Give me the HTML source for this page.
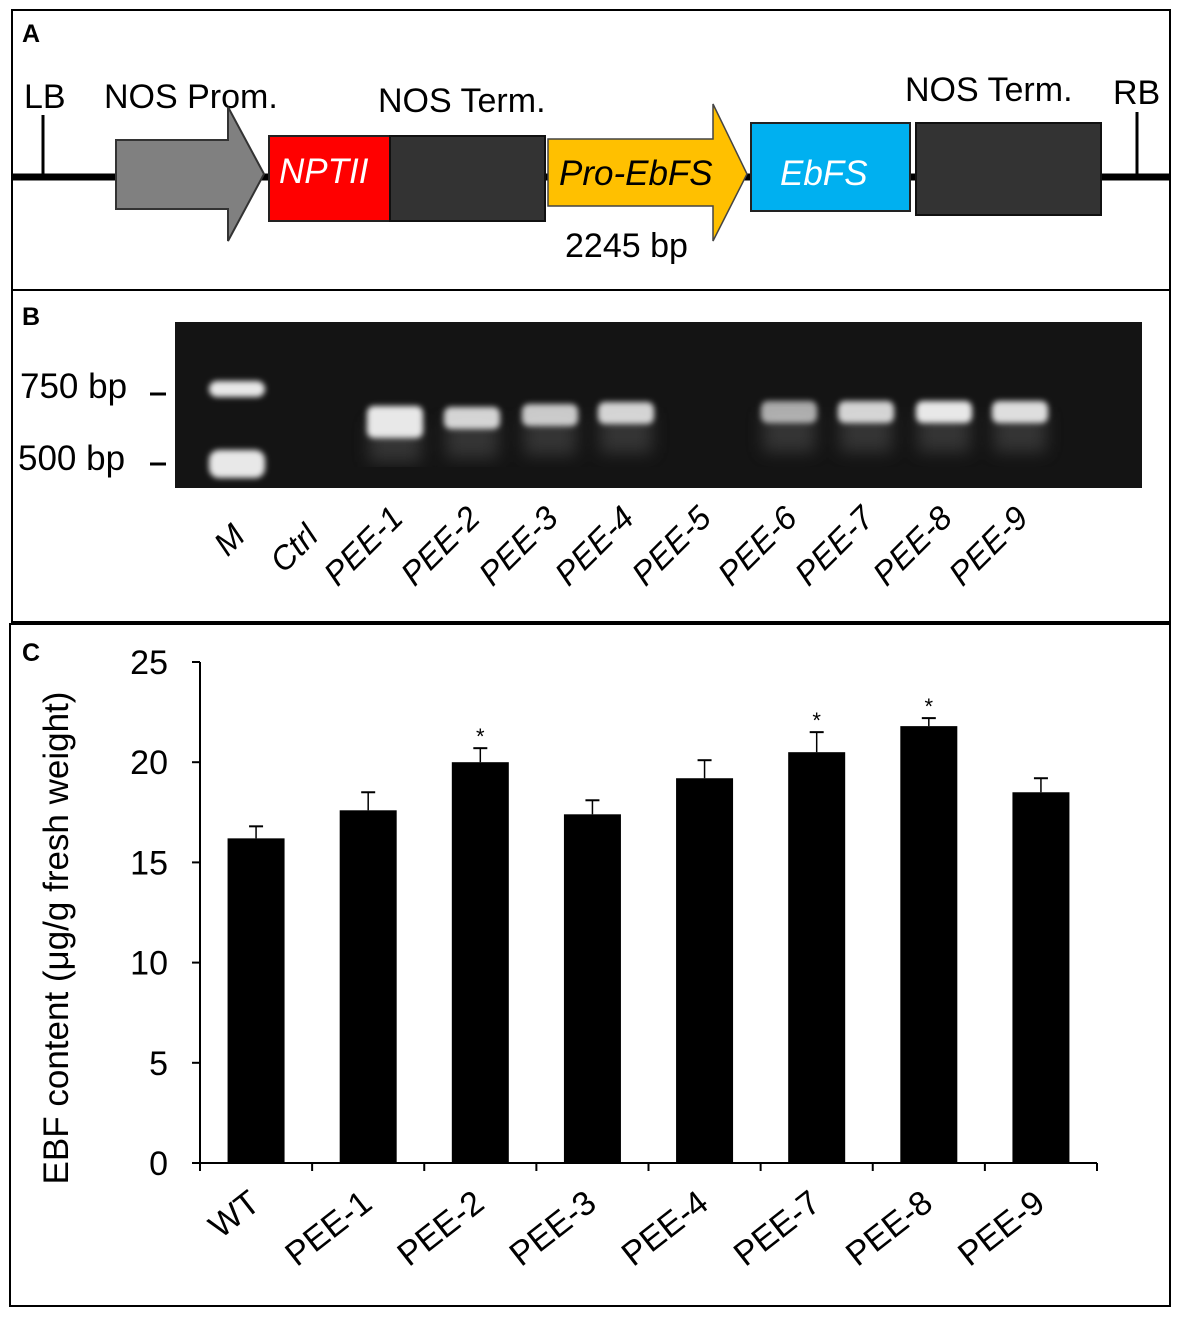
<!DOCTYPE html>
<html><head><meta charset="utf-8"><style>
html,body{margin:0;padding:0;background:#fff}
svg{display:block;font-family:"Liberation Sans",Arial,sans-serif}
</style></head><body>
<svg width="1181" height="1317" viewBox="0 0 1181 1317" xmlns="http://www.w3.org/2000/svg">
<g>
<rect x="12" y="10" width="1158" height="280" fill="none" stroke="#000" stroke-width="2"/>
<text x="22" y="42" font-size="25" font-weight="bold">A</text>
<line x1="13" y1="177" x2="1170" y2="177" stroke="#000" stroke-width="7"/>
<line x1="43" y1="115" x2="43" y2="177" stroke="#000" stroke-width="3"/>
<line x1="1137" y1="112" x2="1137" y2="177" stroke="#000" stroke-width="3"/>
<text x="24" y="108" font-size="34">LB</text>
<text x="104" y="108" font-size="34">NOS Prom.</text>
<text x="378" y="112" font-size="34">NOS Term.</text>
<text x="905" y="101" font-size="34">NOS Term.</text>
<text x="1113" y="104" font-size="34">RB</text>
<polygon points="116,140 228,140 228,107 264,174 228,241 228,209 116,209" fill="#808080" stroke="#333" stroke-width="2"/>
<rect x="269" y="136" width="121" height="85" fill="#ff0000" stroke="#222" stroke-width="2"/>
<text x="279" y="183" font-size="35" font-style="italic" fill="#fff">NPTII</text>
<rect x="390" y="136" width="155" height="85" fill="#333" stroke="#111" stroke-width="2"/>
<polygon points="548,139 713,139 713,104 747,174 713,241 713,206 548,206" fill="#ffc000" stroke="#444" stroke-width="1.5"/>
<text x="559" y="185" font-size="35" font-style="italic" fill="#000">Pro-EbFS</text>
<text x="565" y="257" font-size="34">2245 bp</text>
<rect x="751" y="123" width="159" height="88" fill="#00b0f0" stroke="#222" stroke-width="2"/>
<text x="780" y="185" font-size="35" font-style="italic" fill="#fff">EbFS</text>
<rect x="916" y="123" width="185" height="92" fill="#333" stroke="#111" stroke-width="2"/>
</g>
<g>
<rect x="12" y="290" width="1158" height="332" fill="none" stroke="#000" stroke-width="2"/>
<text x="22" y="325" font-size="25" font-weight="bold">B</text>
<defs><filter id="blur"><feGaussianBlur stdDeviation="3"/></filter><filter id="blur2"><feGaussianBlur stdDeviation="8"/></filter></defs>
<rect x="175" y="322" width="967" height="166" fill="#141414"/>
<g filter="url(#blur2)" fill="#555" opacity="0.5" id="smears"></g>
<g filter="url(#blur)" fill="#e8e8e8" id="bands"></g>
<text x="20" y="398" font-size="35">750 bp</text>
<text x="18" y="470" font-size="35">500 bp</text>
<line x1="150" y1="394" x2="166" y2="394" stroke="#000" stroke-width="3"/>
<line x1="150" y1="464" x2="166" y2="464" stroke="#000" stroke-width="3"/>
<g id="laneLabels" font-size="33" font-style="italic"></g>
</g>
<g>
<rect x="10" y="624" width="1160" height="682" fill="none" stroke="#000" stroke-width="2"/>
<text x="22" y="661" font-size="25" font-weight="bold">C</text>
<text transform="translate(68,938) rotate(-90)" text-anchor="middle" font-size="35">EBF content (μg/g fresh weight)</text>
<g id="chart"></g>
</g>
<script>
const gelLanes = ["M","Ctrl","PEE-1","PEE-2","PEE-3","PEE-4","PEE-5","PEE-6","PEE-7","PEE-8","PEE-9"];
const laneX = [237,310,395,472,550,626,703,789,866,944,1020];
const bandIntensity = [1,0,1,0.9,0.85,0.9,0,0.7,0.9,1,0.95];
const categories = ["WT","PEE-1","PEE-2","PEE-3","PEE-4","PEE-7","PEE-8","PEE-9"];
const values = [16.2,17.6,20.0,17.4,19.2,20.5,21.8,18.5];
const errors = [0.6,0.9,0.7,0.7,0.9,1.0,0.4,0.7];
const significant = [false,false,true,false,false,true,true,false];
const yTicks = [0,5,10,15,20,25];

const NS="http://www.w3.org/2000/svg";
function mk(tag, attrs, parent, text){const e=document.createElementNS(NS,tag);for(const k in attrs)e.setAttribute(k,attrs[k]);if(text!==undefined)e.textContent=text;parent.appendChild(e);return e;}

const bands=document.getElementById('bands');
const smears=document.getElementById('smears');
const bandY=[0,0,422,418,415,413,0,412,412,412,412];
laneX.forEach((x,i)=>{
  if(i===0){
    const b1=mk('rect',{x:x-28,y:381,width:56,height:16,rx:8},bands);
    
    
    const b2=mk('rect',{x:x-28,y:450,width:56,height:28,rx:10},bands);
    
    
    return;
  }
  if(bandIntensity[i]>0){
    const h=i===2?32:22;
    mk('rect',{x:x-26,y:bandY[i],width:52,height:40},smears);
    const b=mk('rect',{x:x-28,y:bandY[i]-h/2,width:56,height:h,rx:7,opacity:bandIntensity[i]},bands);
    
    
  }
});
const ll=document.getElementById('laneLabels');
laneX.forEach((x,i)=>{
  const t=mk('text',{'text-anchor':'end',transform:`translate(${x+10},${i<2?538:520}) rotate(-45)`},ll,gelLanes[i]);
  
  
});

const chart=document.getElementById('chart');
const x0=200,x1=1097,y0=1163,yTop=662,ymax=25;
const yS=v=>y0-(y0-yTop)*v/ymax;
const step=(x1-x0)/categories.length;
const xC=i=>x0+step*(i+0.5);
const ya=mk('line',{x1:x0,y1:yTop,x2:x0,y2:y0,stroke:'#000','stroke-width':2},chart);


const xa=mk('line',{x1:x0-8,y1:y0,x2:x1,y2:y0,stroke:'#000','stroke-width':2},chart);


yTicks.forEach(v=>{
  mk('line',{x1:x0-8,y1:yS(v),x2:x0,y2:yS(v),stroke:'#000','stroke-width':2},chart);
  const t=mk('text',{x:x0-32,y:yS(v)+12,'text-anchor':'end','font-size':34},chart,String(v));
  
  
});
for(let i=0;i<=categories.length;i++){
  mk('line',{x1:x0+step*i,y1:y0,x2:x0+step*i,y2:y0+8,stroke:'#000','stroke-width':2},chart);
}
const bw=57;
categories.forEach((c,i)=>{
  const cx=xC(i);
  const eb=mk('g',{},chart);
  
  
  mk('line',{x1:cx,y1:yS(values[i]),x2:cx,y2:yS(values[i]+errors[i]),stroke:'#000','stroke-width':1.5},eb);
  mk('line',{x1:cx-7,y1:yS(values[i]+errors[i]),x2:cx+7,y2:yS(values[i]+errors[i]),stroke:'#000','stroke-width':2},eb);
  const r=mk('rect',{x:cx-bw/2,y:yS(values[i]),width:bw,height:y0-yS(values[i]),fill:'#000'},chart);
  
  
  if(significant[i]){
    const s=mk('text',{x:cx,y:yS(values[i]+errors[i])-4,'text-anchor':'middle','font-size':22},chart,'*');
    
    
  }
  const t=mk('text',{'text-anchor':'end','font-size':34,transform:`translate(${cx+6},${y0+44}) rotate(-38)`},chart,c);
  
  
});
</script>
</svg>
</body></html>
